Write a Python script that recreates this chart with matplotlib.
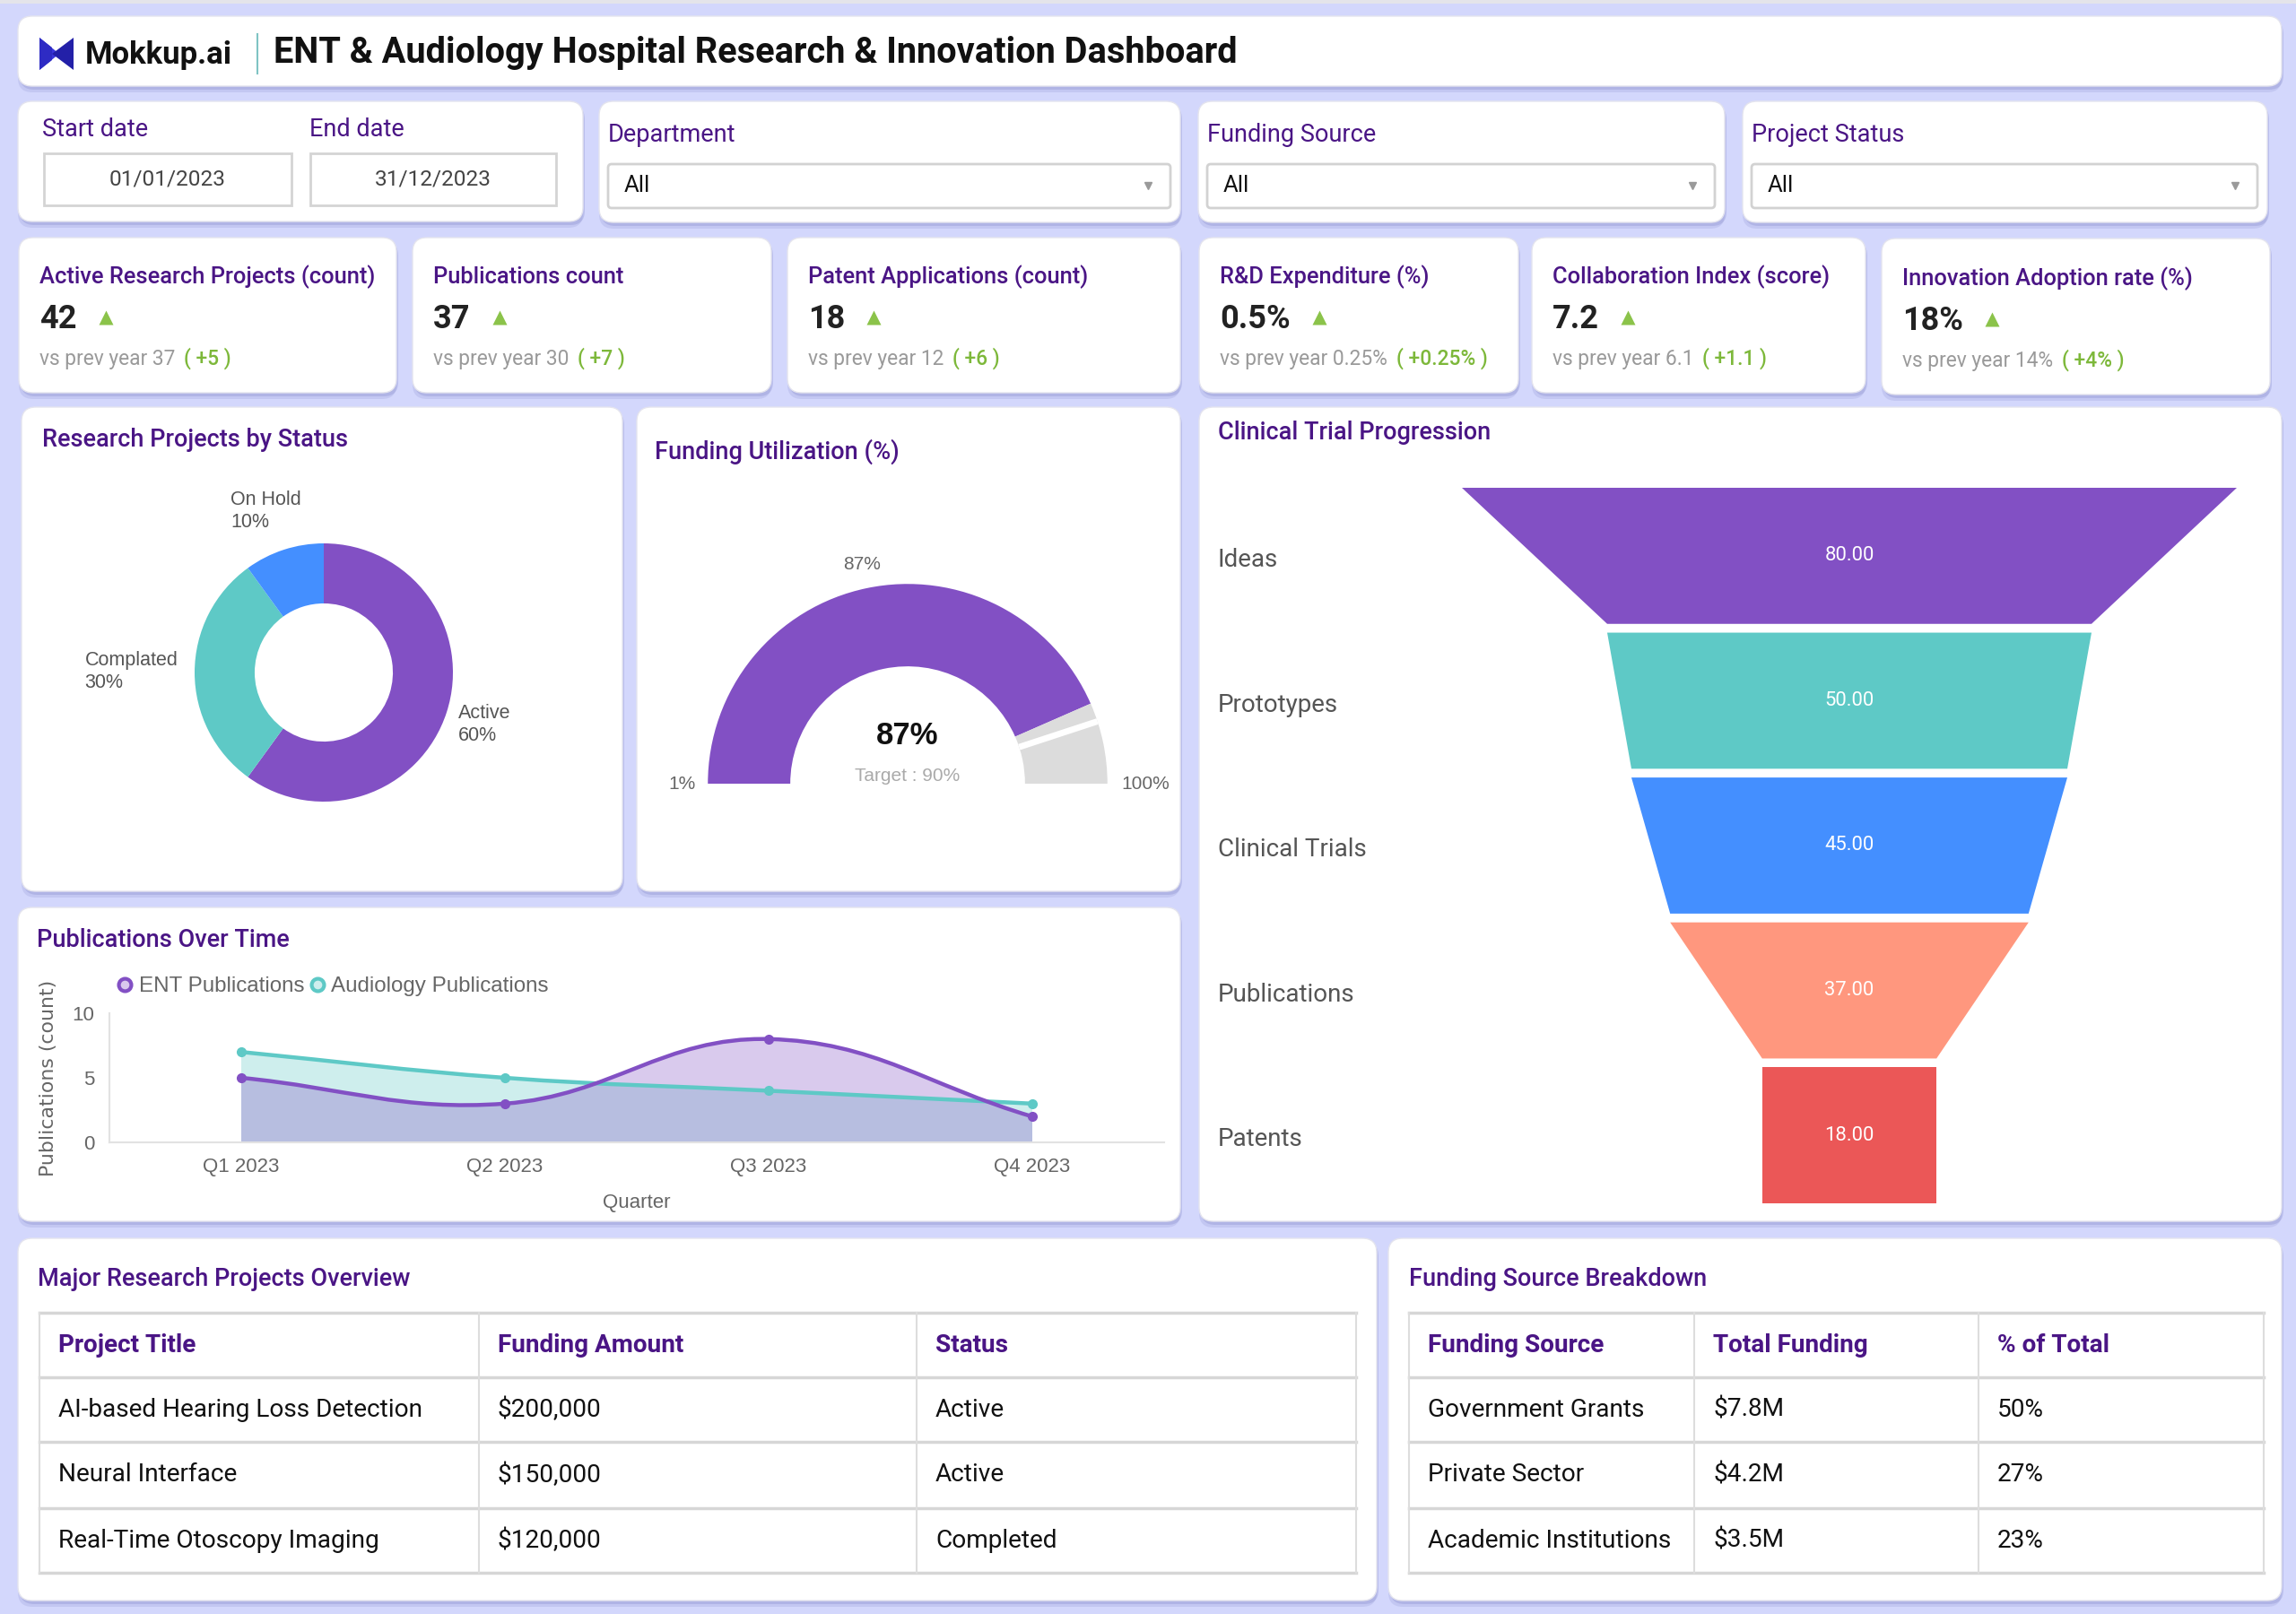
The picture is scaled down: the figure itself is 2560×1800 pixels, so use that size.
import matplotlib
matplotlib.use("Agg")
import matplotlib.pyplot as plt
from matplotlib.patches import FancyBboxPatch, Rectangle, Polygon, Wedge, PathPatch
from matplotlib.path import Path
import numpy as np

# ---- data -------------------------------------------------------------
dashboard_title = "ENT & Audiology Hospital Research & Innovation Dashboard"
start_date, end_date = "01/01/2023", "31/12/2023"
filter_names = ["Department", "Funding Source", "Project Status"]
filter_values = ["All", "All", "All"]

kpi_titles = ["Active Research Projects (count)", "Publications count",
              "Patent Applications (count)", "R&D Expenditure (%)",
              "Collaboration Index (score)", "Innovation Adoption rate (%)"]
kpi_values = ["42", "37", "18", "0.5%", "7.2", "18%"]
kpi_prev = ["37", "30", "12", "0.25%", "6.1", "14%"]
kpi_delta = ["+5", "+7", "+6", "+0.25%", "+1.1", "+4%"]

status_labels = ["Active", "Complated", "On Hold"]
status_share = [60, 30, 10]

funding_util = 87
funding_target = 90
gauge_min, gauge_max = 1, 100

quarters = ["Q1 2023", "Q2 2023", "Q3 2023", "Q4 2023"]
ent_pubs = [5, 3, 8, 2]
audio_pubs = [7, 5, 4, 3]

stages = ["Ideas", "Prototypes", "Clinical Trials", "Publications", "Patents"]
stage_values = [80, 50, 45, 37, 18]

project_header = ["Project Title", "Funding Amount", "Status"]
project_titles = ["AI-based Hearing Loss Detection", "Neural Interface", "Real-Time Otoscopy Imaging"]
project_funding = ["$200,000", "$150,000", "$120,000"]
project_status = ["Active", "Active", "Completed"]

source_header = ["Funding Source", "Total Funding", "% of Total"]
source_names = ["Government Grants", "Private Sector", "Academic Institutions"]
source_totals = ["$7.8M", "$4.2M", "$3.5M"]
source_share = ["50%", "27%", "23%"]

# ---- style ------------------------------------------------------------
W, H = 2560, 1800
BG = "#d3d7fc"
TITLE = "#4a1585"
PURPLE, TEAL, BLUE, SALMON, RED = "#8250c4", "#5ec9c6", "#448fff", "#ff977e", "#eb5757"
GREEN = "#7db83a"
GREY_TXT = "#666666"
ARIAL = "Liberation Sans"
CARD_TITLE = 19.5

plt.rcParams["font.family"] = ["Roboto", "DejaVu Sans"]

fig = plt.figure(figsize=(25.6, 18), dpi=100)
fig.patch.set_facecolor(BG)
bg = fig.add_axes([0, 0, 1, 1])
bg.set_xlim(0, W)
bg.set_ylim(H, 0)
bg.axis("off")
bg.add_patch(Rectangle((0, 0), W, 4, fc="#e4e4ea", ec="none", zorder=0))


def frac(x0, y0, x1, y1):
    return [x0 / W, 1 - y1 / H, (x1 - x0) / W, (y1 - y0) / H]


def card(x0, y0, x1, y1, r=16):
    for dx, dy, a in [(0, 7, 0.22), (2, 4, 0.35)]:
        bg.add_patch(FancyBboxPatch((x0 + dx, y0 + dy), x1 - x0, y1 - y0,
                                    boxstyle=f"round,pad=0,rounding_size={r}",
                                    fc="#8d92cf", ec="none", alpha=a, zorder=1))
    bg.add_patch(FancyBboxPatch((x0, y0), x1 - x0, y1 - y0,
                                boxstyle=f"round,pad=0,rounding_size={r}",
                                fc="white", ec="#e4e4ee", lw=1, zorder=2))


# ---- header -----------------------------------------------------------
card(20, 18, 2544, 96)
bg.add_patch(Polygon([(44, 42), (66, 60), (44, 78)], closed=True, fc="#3a36db", ec="none", zorder=3))
bg.add_patch(Polygon([(82, 42), (82, 78), (58, 60), (62, 57)], closed=True, fc="#2320a8", ec="none", zorder=3))
bg.add_patch(Polygon([(44, 42), (58, 53), (58, 67), (44, 78)], closed=True, fc="#2e2bc4", ec="none", zorder=3))
bg.text(95, 62, "Mokkup.ai", fontsize=25, weight="bold", color="#111111", va="center", zorder=4)
bg.plot([287, 287], [38, 82], color="#7fc4c4", lw=1.5, zorder=4)
bg.text(305, 59, dashboard_title, fontsize=28.6, weight="bold", color="#111111", va="center", zorder=4)

# ---- filters ----------------------------------------------------------
card(20, 113, 650, 247)
bg.text(47, 145, "Start date", fontsize=19.5, color=TITLE, va="center", zorder=4)
bg.text(345, 145, "End date", fontsize=19.5, color=TITLE, va="center", zorder=4)
for (x0, x1), val in zip([(49, 325), (346, 620)], [start_date, end_date]):
    bg.add_patch(Rectangle((x0, 171), x1 - x0, 58, fc="white", ec="#d4d4d4", lw=2, zorder=3))
    bg.text((x0 + x1) / 2, 200, val, fontsize=17.6, color="#444444", ha="center", va="center", zorder=4)

filter_cards = [(668, 1316), (1336, 1923), (1943, 2528)]
for (cx0, cx1), name, val in zip(filter_cards, filter_names, filter_values):
    card(cx0, 113, cx1, 248)
    bg.text(cx0 + 10, 150, name, fontsize=19.5, color=TITLE, va="center", zorder=4)
    bg.add_patch(FancyBboxPatch((cx0 + 10, 183), cx1 - cx0 - 21, 49,
                                boxstyle="round,pad=0,rounding_size=4",
                                fc="white", ec="#d2d2d2", lw=2, zorder=3))
    bg.text(cx0 + 28, 207, val, fontsize=18.5, color="#111111", va="center", zorder=4)
    bg.plot(cx1 - 36, 207, marker="v", ms=6, color="#9a9a9a", zorder=4)

# ---- KPI cards --------------------------------------------------------
kpi_x = [(21, 442), (460, 860), (878, 1316), (1337, 1693), (1708, 2080), (2098, 2531)]
renderer = fig.canvas.get_renderer()
for i, (x0, x1) in enumerate(kpi_x):
    dy = 2 if i == 5 else 0
    card(x0, 265 + dy * 0.5, x1, 438 + dy)
    tx = x0 + 23
    bg.text(tx, 309 + dy, kpi_titles[i], fontsize=18.4, weight="medium", color=TITLE, va="center", zorder=4)
    v = bg.text(tx, 356 + dy, kpi_values[i], fontsize=26, weight="bold", color="#222222",
                va="center", zorder=4)
    vx = v.get_window_extent(renderer).x1
    bg.plot(vx + 32, 354 + dy, marker="^", ms=12, color="#8bc34a", mec="none", zorder=4)
    p = bg.text(tx, 400 + dy, f"vs prev year {kpi_prev[i]}", fontsize=16.4, color="#9a9a9a",
                va="center", zorder=4)
    px = p.get_window_extent(renderer).x1
    bg.text(px + 10, 400 + dy, f"( {kpi_delta[i]} )", fontsize=16.4, weight="medium", color=GREEN,
            va="center", zorder=4)

# ---- donut ------------------------------------------------------------
card(24, 454, 694, 994)
bg.text(47, 491, "Research Projects by Status", fontsize=CARD_TITLE, weight="medium", color=TITLE,
        va="center", zorder=4)
ax_d = fig.add_axes(frac(73, 462, 649, 1038))
ax_d.set_facecolor("none")
ax_d.pie(status_share, colors=[PURPLE, TEAL, BLUE], startangle=90, counterclock=False,
         radius=1, wedgeprops=dict(width=0.465, edgecolor="none"))
ax_d.set_xlim(-2, 2)
ax_d.set_ylim(-2, 2)
ax_d.set_aspect("equal")
ax_d.axis("off")
label_pos = [(1.04, -0.40), (-1.85, 0.01), (-0.72, 1.25)]
for (lx, ly), name, share in zip(label_pos, status_labels, status_share):
    ax_d.text(lx, ly, f"{name}\n{share}%", fontsize=15.5, family=ARIAL, color="#555555",
              ha="left", va="center", linespacing=1.25)

# ---- gauge ------------------------------------------------------------
card(710, 454, 1316, 994)
bg.text(730, 504, "Funding Utilization (%)", fontsize=CARD_TITLE, weight="medium", color=TITLE,
        va="center", zorder=4)
ax_g = fig.add_axes(frac(689, 551, 1335, 1197))
ax_g.set_facecolor("none")
ax_g.set_xlim(-1.45, 1.45)
ax_g.set_ylim(-1.45, 1.45)
ax_g.set_aspect("equal")
ax_g.axis("off")
r_in = 131 / 223
val_ang = 180 * (1 - (funding_util - gauge_min) / (gauge_max - gauge_min))
tgt_ang = 180 * (1 - (funding_target - gauge_min) / (gauge_max - gauge_min))
ax_g.add_patch(Wedge((0, 0), 1, val_ang, 180, width=1 - r_in, fc=PURPLE, ec="none"))
ax_g.add_patch(Wedge((0, 0), 1, 0, val_ang, width=1 - r_in, fc="#dcdcdc", ec="none"))
t = np.deg2rad(tgt_ang)
ax_g.plot([r_in * np.cos(t), np.cos(t)], [r_in * np.sin(t), np.sin(t)], color="white", lw=5,
          solid_capstyle="butt")
mid = np.deg2rad((val_ang + 180) / 2)
ax_g.text(1.12 * np.cos(mid), 1.12 * np.sin(mid), f"{funding_util}%", fontsize=15, family=ARIAL,
          color=GREY_TXT, ha="center", va="center")
ax_g.text(-1.06, 0.0, f"{gauge_min}%", fontsize=15, family=ARIAL, color=GREY_TXT, ha="right", va="center")
ax_g.text(1.07, 0.0, f"{gauge_max}%", fontsize=15, family=ARIAL, color=GREY_TXT, ha="left", va="center")
ax_g.text(0, 0.24, f"{funding_util}%", fontsize=25, weight="bold", family=ARIAL, color="#111111",
          ha="center", va="center")
ax_g.text(0, 0.04, f"Target : {funding_target}%", fontsize=15, family=ARIAL, color="#aaaaaa",
          ha="center", va="center")


# ---- publications over time ------------------------------------------
def smooth(xs, ys, tension=0.4, sx=294.0, sy=14.4):
    # Chart.js style cubic bezier through the points
    pts = np.column_stack([np.asarray(xs, float) * sx, np.asarray(ys, float) * sy])
    n = len(pts)
    cp_prev, cp_next = pts.copy(), pts.copy()
    for i in range(n):
        p0, p1, p2 = pts[max(i - 1, 0)], pts[i], pts[min(i + 1, n - 1)]
        d01, d12 = np.hypot(*(p1 - p0)), np.hypot(*(p2 - p1))
        tot = d01 + d12
        fa = tension * d01 / tot if tot else 0
        fb = tension * d12 / tot if tot else 0
        cp_prev[i] = p1 - fa * (p2 - p0)
        cp_next[i] = p1 + fb * (p2 - p0)
    verts, codes = [pts[0]], [Path.MOVETO]
    for i in range(n - 1):
        verts += [cp_next[i], cp_prev[i + 1], pts[i + 1]]
        codes += [Path.CURVE4] * 3
    return np.array(verts) / [sx, sy], codes


card(20, 1012, 1316, 1362)
bg.text(41, 1048, "Publications Over Time", fontsize=CARD_TITLE, weight="medium", color=TITLE,
        va="center", zorder=4)
ax_l = fig.add_axes(frac(122, 1130, 1298, 1274))
ax_l.set_facecolor("none")
xs = np.arange(len(quarters))
for ys, col in [(audio_pubs, TEAL), (ent_pubs, PURPLE)]:
    verts, codes = smooth(xs, ys)
    fill_v = np.vstack([verts, [[xs[-1], 0], [xs[0], 0], verts[0]]])
    fill_c = codes + [Path.LINETO, Path.LINETO, Path.CLOSEPOLY]
    ax_l.add_patch(PathPatch(Path(fill_v, fill_c), fc=col, alpha=0.3, ec="none", zorder=1))
for ys, col in [(audio_pubs, TEAL), (ent_pubs, PURPLE)]:
    verts, codes = smooth(xs, ys)
    ax_l.add_patch(PathPatch(Path(verts, codes), fc="none", ec=col, lw=3.2, zorder=3,
                             clip_on=False))
    ax_l.plot(xs, ys, "o", color=col, ms=7, zorder=4, clip_on=False)
ax_l.set_xlim(-0.5, 3.5)
ax_l.set_ylim(0, 10)
ax_l.set_xticks(xs)
ax_l.set_xticklabels(quarters)
ax_l.set_yticks([0, 5, 10])
for sp in ["top", "right"]:
    ax_l.spines[sp].set_visible(False)
for sp in ["left", "bottom"]:
    ax_l.spines[sp].set_color("#e2e2e2")
    ax_l.spines[sp].set_linewidth(1.5)
ax_l.tick_params(length=0, labelsize=16, labelcolor=GREY_TXT, pad=12)
for lab in ax_l.get_xticklabels() + ax_l.get_yticklabels():
    lab.set_family(ARIAL)
ax_l.set_xlabel("Quarter", fontsize=16, family=ARIAL, color=GREY_TXT, labelpad=14)
ax_l.set_ylabel("Publications (count)", fontsize=15.8, family="DejaVu Sans", color=GREY_TXT,
                labelpad=12)
h1, = ax_l.plot([], [], "o", mfc=(0.51, 0.31, 0.77, 0.3), mec=PURPLE, mew=3, ms=10)
h2, = ax_l.plot([], [], "o", mfc=(0.37, 0.79, 0.78, 0.3), mec=TEAL, mew=3, ms=10)
leg = ax_l.legend([h1, h2], ["ENT Publications", "Audiology Publications"], ncol=2,
                  loc="lower left", bbox_to_anchor=(-0.0, 1.065), frameon=False,
                  prop=dict(family=ARIAL, size=17.4), handlelength=0.6, handletextpad=0.35,
                  columnspacing=0.3, borderaxespad=0)
for txt in leg.get_texts():
    txt.set_color(GREY_TXT)

# ---- funnel -----------------------------------------------------------
card(1337, 454, 2544, 1362)
bg.text(1358, 483, "Clinical Trial Progression", fontsize=CARD_TITLE, weight="medium", color=TITLE,
        va="center", zorder=4)
ax_f = fig.add_axes(frac(1630, 544, 2494, 1342))
ax_f.set_facecolor("none")
seg_h = 93 / 99
half = max(stage_values) / 2
ax_f.set_xlim(-half, half)
ax_f.set_ylim(len(stages) - 1 + seg_h, 0)
ax_f.axis("off")
for i, (name, v, col) in enumerate(zip(stages, stage_values, [PURPLE, TEAL, BLUE, SALMON, RED])):
    nxt = stage_values[i + 1] if i + 1 < len(stage_values) else v
    ax_f.add_patch(Polygon([(-v / 2, i), (v / 2, i), (nxt / 2, i + seg_h), (-nxt / 2, i + seg_h)],
                           closed=True, fc=col, ec="none"))
    ax_f.text(0, i + seg_h / 2, f"{v:.2f}", fontsize=15.8, color="white", ha="center", va="center")
    ax_f.text(-0.315, i + seg_h / 2 + 0.03, name, transform=ax_f.get_yaxis_transform(),
              fontsize=20, color="#555555", ha="left", va="center")


# ---- tables -----------------------------------------------------------
def draw_table(x_cols, y_rows, header, columns):
    for y in y_rows:
        bg.plot([x_cols[0], x_cols[-1]], [y, y], color="#d6d6d6", lw=2.5, zorder=3)
    for x in x_cols:
        bg.plot([x, x], [y_rows[0], y_rows[-1]], color="#dddddd", lw=1.5, zorder=3)
    for j, h in enumerate(header):
        bg.text(x_cols[j] + 21, (y_rows[0] + y_rows[1]) / 2, h, fontsize=20.1, weight="bold",
                color=TITLE, va="center", zorder=4)
    for i, row in enumerate(zip(*columns)):
        for j, val in enumerate(row):
            bg.text(x_cols[j] + 21, (y_rows[i + 1] + y_rows[i + 2]) / 2, val, fontsize=20.2,
                    color="#111111", va="center", zorder=4)


rows_y = [1464, 1536, 1608, 1682, 1754]
card(20, 1381, 1535, 1785)
bg.text(42, 1427, "Major Research Projects Overview", fontsize=CARD_TITLE, weight="medium", color=TITLE,
        va="center", zorder=4)
draw_table([44, 534, 1022, 1512], rows_y, project_header,
           [project_titles, project_funding, project_status])

card(1548, 1381, 2544, 1785)
bg.text(1571, 1427, "Funding Source Breakdown", fontsize=CARD_TITLE, weight="medium", color=TITLE,
        va="center", zorder=4)
draw_table([1571, 1889, 2206, 2524], rows_y, source_header,
           [source_names, source_totals, source_share])

fig.savefig("out.png", dpi=100, facecolor=BG)
